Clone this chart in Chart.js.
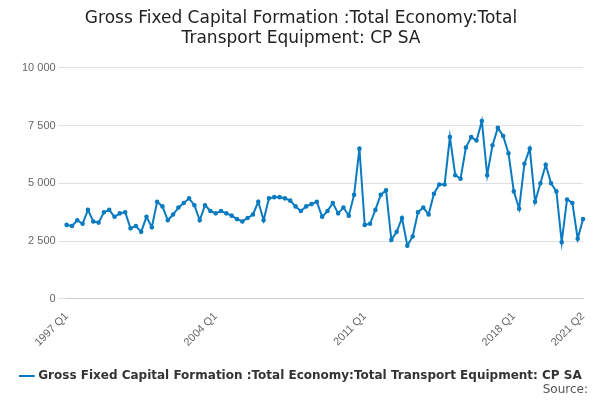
<!DOCTYPE html>
<html><head><meta charset="utf-8">
<script src="https://cdn.jsdelivr.net/npm/chart.js@4"></script>
<style>body{margin:0;background:#fff;font-family:"DejaVu Sans",sans-serif}#w{position:relative;width:600px;height:400px}
#src{position:absolute;right:12px;bottom:4px;font-size:12px;color:#555}</style>
</head><body><div id="w"><canvas id="c" width="600" height="400"></canvas><div id="src">Source:</div></div>
<script>
const years=[];for(let y=1997;y<=2021;y++)years.push(y);
const labels=[];years.forEach(y=>{for(let q=1;q<=4;q++){if(y===2021&&q>2)break;labels.push(y+' Q'+q);}});
const values=[3200,3150,3400,3250,3850,3350,3300,3750,3850,3550,3700,3750,3050,3150,2900,3550,3100,4200,4000,3400,3650,3950,4150,4350,4050,3400,4050,3800,
3700,3800,3700,3600,3450,3350,3500,3650,4200,3400,4350,4400,4400,4350,4250,4000,3800,4000,4100,4200,3550,3800,4150,3700,3950,3600,4500,6500,
3200,3250,3850,4500,4700,2550,2900,3500,2300,2700,3750,3950,3650,4550,4950,4950,7000,5350,5200,6550,7000,6850,7700,5350,6650,7400,7050,6300,
4650,3900,5850,6500,4200,5000,5800,5000,4650,2450,4300,4150,2600,3450];
const shown=['1997 Q1','2004 Q1','2011 Q1','2018 Q1','2021 Q2'];
const seriesName='Gross Fixed Capital Formation :Total Economy:Total Transport Equipment: CP SA';
new Chart(document.getElementById('c'),{type:'line',
data:{labels,datasets:[{label:seriesName,data:values,borderColor:'#0a7bc1',backgroundColor:'#0a7bc1',borderWidth:2,pointRadius:1.3,pointHoverRadius:3,tension:0}]},
options:{responsive:false,animation:false,layout:{padding:{left:19,right:17,bottom:8}},
plugins:{title:{display:true,text:['Gross Fixed Capital Formation :Total Economy:Total','Transport Equipment: CP SA'],font:{size:17,weight:'normal',family:'DejaVu Sans'},color:'#222',padding:{top:8,bottom:19}},
legend:{position:'bottom',labels:{padding:18,usePointStyle:true,pointStyle:'line',boxWidth:16,font:{size:12,weight:'bold',family:'DejaVu Sans'},color:'#333'}}},
scales:{x:{grid:{display:false},border:{color:'#ccc'},ticks:{autoSkip:false,maxRotation:45,minRotation:45,color:'#666',font:{size:11},callback:function(v,i){const l=labels[i];return shown.includes(l)?l:'';}}},
y:{min:0,max:10000,border:{display:false},grid:{color:'#e0e0e0'},ticks:{stepSize:2500,color:'#666',font:{size:11},callback:v=>v.toLocaleString('en-US').replace(/,/g,' ')}}}}});
</script></body></html>
